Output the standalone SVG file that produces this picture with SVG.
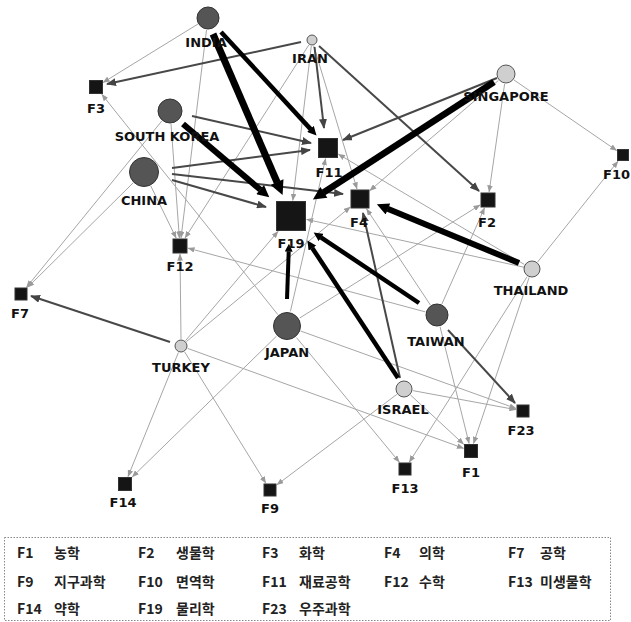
<svg xmlns="http://www.w3.org/2000/svg" width="631" height="622" viewBox="0 0 631 622">
<defs>
<marker id="al" viewBox="0 0 10 8" markerUnits="userSpaceOnUse" markerWidth="7" markerHeight="5.6" refX="9.5" refY="4" orient="auto"><path d="M0,0 L10,4 L0,8 z" fill="#9a9a9a"/></marker>
<marker id="am" viewBox="0 0 10 8" markerUnits="userSpaceOnUse" markerWidth="10" markerHeight="8" refX="9" refY="4" orient="auto"><path d="M0,0 L10,4 L0,8 z" fill="#444"/></marker>
<marker id="ak" viewBox="0 0 10 10" markerUnits="strokeWidth" markerWidth="2.1" markerHeight="2" refX="0.3" refY="5" orient="auto"><path d="M0,0 L10,5 L0,10 z" fill="#000"/></marker>
</defs>
<style>
.l{stroke:#a6a6a6;stroke-width:1;fill:none;marker-end:url(#al)}
.m{stroke:#484848;stroke-width:2;fill:none;marker-end:url(#am)}
.k{stroke:#000;fill:none;marker-end:url(#ak)}
.cd{fill:#555;stroke:#333;stroke-width:1}
.cl{fill:#cfcfcf;stroke:#555;stroke-width:1}
.sq{fill:#151515;stroke:#333;stroke-width:1}
.lb{font-family:"DejaVu Sans",Verdana,sans-serif;font-weight:bold;font-size:13px;fill:#111;text-anchor:middle}
.lg{font-family:"Noto Sans CJK KR",sans-serif;font-size:14px;font-weight:bold;fill:#222}
</style>
<rect width="631" height="622" fill="#fff"/>
<g id="connectors">
<line class="l" x1="198" y1="24" x2="103" y2="82.5"/>
<line class="l" x1="206.5" y1="30" x2="181" y2="238"/>
<line class="l" x1="308.8" y1="45" x2="185" y2="238"/>
<line class="l" x1="311.3" y1="46" x2="292.8" y2="200.5"/>
<line class="l" x1="313.7" y1="45.7" x2="357" y2="189"/>
<line class="l" x1="514" y1="80" x2="616.7" y2="150.6"/>
<line class="l" x1="504.6" y1="84" x2="489.1" y2="192"/>
<line class="l" x1="498.4" y1="80.5" x2="369.7" y2="190.7"/>
<line class="l" x1="171" y1="124" x2="179.4" y2="238"/>
<line class="l" x1="161.8" y1="121" x2="26.5" y2="287.3"/>
<line class="l" x1="150.8" y1="186" x2="176.2" y2="238.1"/>
<line class="l" x1="133" y1="183" x2="27.7" y2="287.3"/>
<line class="l" x1="524.3" y1="264.4" x2="338.3" y2="154.1"/>
<line class="l" x1="524.2" y1="267.3" x2="306.5" y2="219.4"/>
<line class="l" x1="537.6" y1="262" x2="618" y2="161.2"/>
<line class="l" x1="529.1" y1="277.5" x2="473.5" y2="443.5"/>
<line class="l" x1="527.2" y1="276.6" x2="409.3" y2="462.2"/>
<line class="l" x1="425.4" y1="311.9" x2="187.9" y2="248.1"/>
<line class="l" x1="430.4" y1="305" x2="366.5" y2="208.8"/>
<line class="l" x1="441.9" y1="304" x2="484.5" y2="207.9"/>
<line class="l" x1="440" y1="326.6" x2="469.1" y2="443.5"/>
<line class="l" x1="277.9" y1="314.7" x2="101.8" y2="94.3"/>
<line class="l" x1="299.7" y1="318" x2="480.1" y2="204.9"/>
<line class="l" x1="290.4" y1="311.4" x2="325.6" y2="158.5"/>
<line class="l" x1="296.5" y1="337.6" x2="399.4" y2="462.2"/>
<line class="l" x1="276.6" y1="336.1" x2="132.2" y2="477"/>
<line class="l" x1="300.6" y1="331" x2="516" y2="408.5"/>
<line class="l" x1="181" y1="339" x2="180" y2="254"/>
<line class="l" x1="185.5" y1="340.7" x2="278.1" y2="231.3"/>
<line class="l" x1="186.4" y1="341.6" x2="350.3" y2="207"/>
<line class="l" x1="178.4" y1="352.5" x2="128" y2="476.6"/>
<line class="l" x1="184.7" y1="352" x2="265.8" y2="483.2"/>
<line class="l" x1="187.6" y1="348.4" x2="463.6" y2="448.3"/>
<line class="l" x1="412.8" y1="390.6" x2="516" y2="409.7"/>
<line class="l" x1="410.6" y1="395.1" x2="463.7" y2="444.3"/>
<line class="l" x1="396.8" y1="394.4" x2="276.8" y2="484.9"/>
<line class="m" x1="301" y1="42" x2="107" y2="84"/>
<line class="m" x1="314.5" y1="47" x2="324" y2="128"/>
<line class="m" x1="319" y1="46" x2="479" y2="191"/>
<line class="m" x1="497" y1="78" x2="343" y2="140"/>
<line class="m" x1="192" y1="116" x2="311" y2="143"/>
<line class="m" x1="172" y1="168" x2="310" y2="150"/>
<line class="m" x1="172" y1="174" x2="343" y2="194"/>
<line class="m" x1="172" y1="180" x2="266" y2="207"/>
<line class="m" x1="170" y1="342" x2="31" y2="296"/>
<line class="m" x1="448" y1="330" x2="515" y2="403"/>
<line class="m" x1="400" y1="378" x2="363" y2="213"/>
<line class="k" stroke-width="7" x1="213" y1="34" x2="277.2" y2="182.5"/>
<line class="k" stroke-width="4.5" x1="221" y1="32" x2="310.6" y2="129.1"/>
<line class="k" stroke-width="6" x1="183" y1="124" x2="260.4" y2="189.8"/>
<line class="k" stroke-width="6.5" x1="494" y1="82" x2="323.5" y2="192.6"/>
<line class="k" stroke-width="6" x1="519" y1="263" x2="387.6" y2="208.8"/>
<line class="k" stroke-width="4.5" x1="419" y1="303" x2="320.9" y2="237.3"/>
<line class="k" stroke-width="4.5" x1="398" y1="378" x2="312.2" y2="247.9"/>
<line class="k" stroke-width="4" x1="287" y1="299" x2="288.7" y2="251.4"/>
</g>
<g id="INDIA"><circle class="cd" cx="208" cy="18" r="11"/><text class="lb" x="206" y="46.5">INDIA</text></g>
<g id="IRAN"><circle class="cl" cx="312" cy="40" r="5"/><text class="lb" x="310" y="62.5">IRAN</text></g>
<g id="SINGAPORE"><circle class="cl" cx="506" cy="74" r="9"/><text class="lb" x="506" y="100.5">SINGAPORE</text></g>
<g id="SOUTH_KOREA"><circle class="cd" cx="170" cy="111" r="12"/><text class="lb" x="167" y="140.5">SOUTH KOREA</text></g>
<g id="CHINA"><circle class="cd" cx="144" cy="172" r="14.5"/><text class="lb" x="144" y="204.5">CHINA</text></g>
<g id="JAPAN"><circle class="cd" cx="287" cy="326" r="13.5"/><text class="lb" x="287" y="356.5">JAPAN</text></g>
<g id="TAIWAN"><circle class="cd" cx="437" cy="315" r="11"/><text class="lb" x="436" y="345.5">TAIWAN</text></g>
<g id="THAILAND"><circle class="cl" cx="532" cy="269" r="8"/><text class="lb" x="531" y="294.5">THAILAND</text></g>
<g id="TURKEY"><circle class="cl" cx="181" cy="346" r="6"/><text class="lb" x="181" y="371.5">TURKEY</text></g>
<g id="ISRAEL"><circle class="cl" cx="404" cy="389" r="8"/><text class="lb" x="403" y="413.5">ISRAEL</text></g>
<g id="F3"><rect class="sq" x="89.5" y="80.5" width="13" height="13"/><text class="lb" x="96" y="112.5">F3</text></g>
<g id="F11"><rect class="sq" x="318.5" y="138.5" width="19" height="19"/><text class="lb" x="329" y="176.5">F11</text></g>
<g id="F10"><rect class="sq" x="617.5" y="149.5" width="11" height="11"/><text class="lb" x="630" y="178.5" style="text-anchor:end">F10</text></g>
<g id="F19"><rect class="sq" x="276.5" y="201.5" width="29" height="29"/><text class="lb" x="291" y="247.5">F19</text></g>
<g id="F4"><rect class="sq" x="351" y="190" width="18" height="18"/><text class="lb" x="359" y="226.5">F4</text></g>
<g id="F2"><rect class="sq" x="481" y="193" width="14" height="14"/><text class="lb" x="487" y="226.5">F2</text></g>
<g id="F12"><rect class="sq" x="173" y="239" width="14" height="14"/><text class="lb" x="180" y="270.5">F12</text></g>
<g id="F7"><rect class="sq" x="15" y="288" width="12" height="12"/><text class="lb" x="20" y="317.5">F7</text></g>
<g id="F23"><rect class="sq" x="517" y="405" width="12" height="12"/><text class="lb" x="521" y="434.5">F23</text></g>
<g id="F1"><rect class="sq" x="464.5" y="444.5" width="13" height="13"/><text class="lb" x="471" y="476.5">F1</text></g>
<g id="F13"><rect class="sq" x="399" y="463" width="12" height="12"/><text class="lb" x="405" y="492.5">F13</text></g>
<g id="F14"><rect class="sq" x="118.5" y="477.5" width="13" height="13"/><text class="lb" x="123" y="506.5">F14</text></g>
<g id="F9"><rect class="sq" x="264" y="484" width="12" height="12"/><text class="lb" x="270" y="512.5">F9</text></g>
<g id="legend">
<rect x="4.5" y="537.5" width="606" height="83" fill="none" stroke="#888" stroke-width="1" stroke-dasharray="1.5,1.5"/>
<text class="lg" x="17" y="558">F1</text><text class="lg" x="54" y="558">농학</text>
<text class="lg" x="138" y="558">F2</text><text class="lg" x="176" y="558">생물학</text>
<text class="lg" x="262" y="558">F3</text><text class="lg" x="299" y="558">화학</text>
<text class="lg" x="384" y="558">F4</text><text class="lg" x="419" y="558">의학</text>
<text class="lg" x="508" y="558">F7</text><text class="lg" x="540" y="558">공학</text>
<text class="lg" x="17" y="587">F9</text><text class="lg" x="54" y="587">지구과학</text>
<text class="lg" x="138" y="587">F10</text><text class="lg" x="176" y="587">면역학</text>
<text class="lg" x="262" y="587">F11</text><text class="lg" x="299" y="587">재료공학</text>
<text class="lg" x="384" y="587">F12</text><text class="lg" x="419" y="587">수학</text>
<text class="lg" x="508" y="587">F13</text><text class="lg" x="540" y="587">미생물학</text>
<text class="lg" x="17" y="614">F14</text><text class="lg" x="54" y="614">약학</text>
<text class="lg" x="138" y="614">F19</text><text class="lg" x="176" y="614">물리학</text>
<text class="lg" x="262" y="614">F23</text><text class="lg" x="299" y="614">우주과학</text>
</g>
</svg>
